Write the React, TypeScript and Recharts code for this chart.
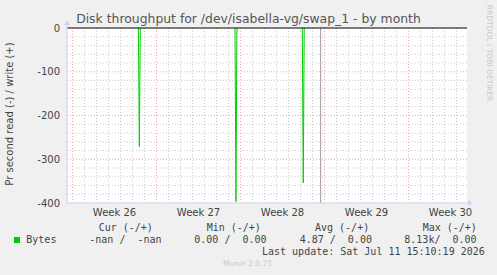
import { LineChart, Line, XAxis, YAxis, ReferenceLine, ReferenceDot, CartesianGrid } from "recharts";

// time in days from the start of week 26
const X_MIN = -0.458;
const X_MAX = 32.875;
const SPIKE_TIMES = [5.49, 5.57, 5.65, 5.7, 13.54, 13.62, 13.7, 13.75, 19.15, 19.23, 19.31];
const SPIKE_READ = [0, -271, 0, null, 0, -397, 0, null, 0, -354, 0];
const VRULE_DAY = 20.68;

const WEEK_LABEL_DAYS = [3.5, 10.5, 17.5, 24.5, 31.5];
const WEEK_LABELS = ["Week 26", "Week 27", "Week 28", "Week 29", "Week 30"];
const WEEK_STARTS = [0, 7, 14, 21, 28];
const Y_TICKS = [0, -100, -200, -300, -400];
const Y_MAJOR = [-100, -200, -300];

const LEGEND_HEADERS = ["Cur (-/+)", "Min (-/+)", "Avg (-/+)", "Max (-/+)"];
const LEGEND_VALUES = ["-nan /  -nan", "0.00 /  0.00", "4.87 /  0.00", "8.13k/  0.00"];
const SERIES_NAME = "Bytes";
const LAST_UPDATE = "Last update: Sat Jul 11 15:10:19 2026";

const data = SPIKE_TIMES.map((t, i) => ({ t, read: SPIKE_READ[i] }));
const minorDays = Array.from({ length: 33 }, (_, i) => i).filter((d) => d % 7 !== 0);
const minorY = Array.from({ length: 19 }, (_, i) => -20 * (i + 1)).filter((v) => v % 100 !== 0);

const AXIS = "#cdd1f4";
const TXT = "#444";
const SANS = "'DejaVu Sans', sans-serif";
const MONO = "'DejaVu Sans Mono', monospace";

const HEADER_X = [98.7, 206.7, 315, 422.7];
const VALUE_X = [89.3, 194.3, 299.7, 404.3];

const mono = (left: number, top: number): React.CSSProperties => ({
  position: "absolute",
  left,
  top,
  fontFamily: MONO,
  fontSize: 10,
  lineHeight: "12px",
  whiteSpace: "pre",
  color: TXT,
});

export default function App() {
  return (
    <div style={{ position: "relative", width: 497, height: 275, background: "#f0f0f0", overflow: "hidden" }}>
      <style>{"body{margin:0}"}</style>
      <div
        style={{
          position: "absolute",
          left: 0,
          top: 11,
          width: 497,
          textAlign: "center",
          fontFamily: SANS,
          fontSize: 12.4,
          lineHeight: "16px",
          color: "#555",
        }}
      >
        Disk throughput for /dev/isabella-vg/swap_1 - by month
      </div>
      <div
        style={{
          position: "absolute",
          left: 10 - 100,
          top: 114 - 7,
          width: 200,
          textAlign: "center",
          fontFamily: SANS,
          fontSize: 10,
          lineHeight: "14px",
          color: TXT,
          transform: "rotate(-90deg)",
        }}
      >
        Pr second read (-) / write (+)
      </div>
      <div
        style={{
          position: "absolute",
          left: 489 - 60,
          top: 53 - 5,
          width: 120,
          textAlign: "center",
          fontFamily: SANS,
          fontSize: 7.5,
          lineHeight: "10px",
          color: "#c8c8c8",
          transform: "rotate(90deg)",
        }}
      >
        RRDTOOL / TOBI OETIKER
      </div>

      <LineChart width={497} height={275} data={data} margin={{ top: 28, right: 30, bottom: 52, left: 7 }}>
        <CartesianGrid horizontal={false} vertical={false} fill="#ffffff" />
        <XAxis
          dataKey="t"
          type="number"
          domain={[X_MIN, X_MAX]}
          allowDataOverflow
          ticks={WEEK_LABEL_DAYS}
          tickFormatter={(v: number) => WEEK_LABELS[WEEK_LABEL_DAYS.indexOf(v)] ?? ""}
          height={20}
          tickSize={0}
          tickMargin={6}
          tickLine={false}
          axisLine={{ stroke: AXIS }}
          tick={{ fontSize: 10, fill: TXT, fontFamily: SANS }}
        />
        <YAxis
          type="number"
          domain={[-400, 0]}
          allowDataOverflow
          ticks={Y_TICKS}
          width={60}
          tickSize={0}
          tickMargin={7}
          tickLine={false}
          axisLine={{ stroke: AXIS }}
          tick={{ fontSize: 10, fill: TXT, fontFamily: SANS }}
        />
        {minorDays.map((d) => (
          <ReferenceLine key={"md" + d} x={d} stroke="#cbcbcb" strokeDasharray="1 2" />
        ))}
        {minorY.map((v) => (
          <ReferenceLine key={"my" + v} y={v} stroke="#cbcbcb" strokeDasharray="1 2" />
        ))}
        {WEEK_STARTS.map((d) => (
          <ReferenceLine key={"wd" + d} x={d} stroke="#f2a6a6" strokeDasharray="1 2" />
        ))}
        {Y_MAJOR.map((v) => (
          <ReferenceLine key={"My" + v} y={v} stroke="#f2a6a6" strokeDasharray="1 2" />
        ))}
        <ReferenceLine x={VRULE_DAY} stroke="#999" />
        <Line
          dataKey="read"
          type="linear"
          stroke="#00cc00"
          strokeWidth={1}
          dot={false}
          connectNulls={false}
          isAnimationActive={false}
        />
        <ReferenceLine y={0} stroke="#000" />
        <ReferenceDot
          x={X_MIN}
          y={0}
          r={0}
          ifOverflow="visible"
          shape={(p: any) => (
            <g>
              <line x1={p.cx} y1={p.cy} x2={p.cx} y2={p.cy - 4} stroke={AXIS} />
              <path d={`M${p.cx - 3},${p.cy - 3} L${p.cx + 3},${p.cy - 3} L${p.cx},${p.cy - 8} Z`} fill={AXIS} />
            </g>
          )}
        />
        <ReferenceDot
          x={X_MAX}
          y={-400}
          r={0}
          ifOverflow="visible"
          shape={(p: any) => (
            <g>
              <line x1={p.cx} y1={p.cy} x2={p.cx + 2} y2={p.cy} stroke={AXIS} />
              <path d={`M${p.cx + 1},${p.cy - 3} L${p.cx + 1},${p.cy + 3} L${p.cx + 6},${p.cy} Z`} fill={AXIS} />
            </g>
          )}
        />
      </LineChart>

      {LEGEND_HEADERS.map((h, i) => (
        <div key={h} style={mono(HEADER_X[i], 221.5)}>
          {h}
        </div>
      ))}
      <div style={{ position: "absolute", left: 14, top: 237, width: 6, height: 6, background: "#00cc00" }} />
      <div style={mono(26.3, 234)}>{SERIES_NAME}</div>
      {LEGEND_VALUES.map((v, i) => (
        <div key={v} style={mono(VALUE_X[i], 234)}>
          {v}
        </div>
      ))}
      <div style={mono(262, 245.5)}>{LAST_UPDATE}</div>
      <div
        style={{
          position: "absolute",
          left: 0,
          top: 259,
          width: 495,
          textAlign: "center",
          fontFamily: SANS,
          fontSize: 7.5,
          lineHeight: "10px",
          color: "#c8c8c8",
        }}
      >
        Munin 2.0.75
      </div>
    </div>
  );
}
